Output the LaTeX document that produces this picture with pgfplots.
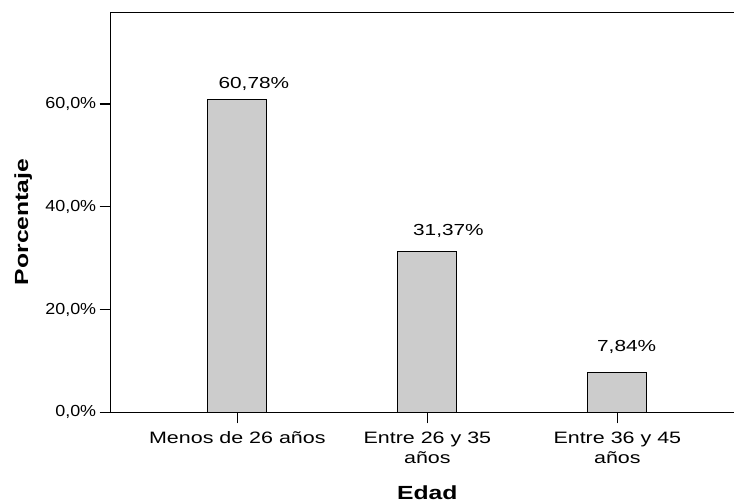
\documentclass[border=0pt]{standalone}
\usepackage{fontspec}
\setmainfont{Liberation Sans}[FakeStretch=1.3]
\newfontfamily\tickfont{Liberation Sans}[FakeStretch=1.12]
\usepackage{pgfplots}
\pgfplotsset{compat=1.18}
\definecolor{bargray}{RGB}{204,204,204}
\begin{document}
\begin{tikzpicture}
\path[use as bounding box] (-110.7pt,-89.7pt) rectangle (623.3pt,412.3pt);
\begin{axis}[
    at={(0,0)}, anchor=south west,
    scale only axis,
    width=633.3pt, height=399.8pt,
    xmin=-0.6667, xmax=2.6667,
    ymin=0, ymax=77.8,
    xtick={0,1,2},
    xticklabels={Menos de 26 años, {Entre 26 y 35\\años}, {Entre 36 y 45\\años}},
    ytick={0,20,40,60},
    yticklabels={{0,0\%}, {20,0\%}, {40,0\%}, {60,0\%}},
    xtick pos=bottom, ytick pos=left,
    tick align=outside,
    major tick length=11pt,
    tick style={black, line width=1.2pt},
    axis line style={line width=1.3pt},
    xticklabel style={font=\fontsize{16.5}{20}\selectfont, align=center, yshift=-5pt},
    yticklabel style={font=\tickfont\fontsize{16}{19}\selectfont},
    xlabel={Edad},
    ylabel={Porcentaje},
    xlabel style={font=\bfseries\fontsize{19}{22}\selectfont, at={(axis description cs:0.5,-0.218)}, anchor=base, inner sep=0pt},
    ylabel style={font=\bfseries\fontsize{19}{22}\selectfont, at={(axis description cs:-0.138,0.476)}, anchor=center, rotate=0},
]
\addplot[ybar, bar width=59pt, fill=bargray, draw=black, line width=1pt]
    coordinates {(0,60.78) (1,31.37) (2,7.84)};
\node[anchor=base, inner sep=0pt, font=\fontsize{16}{19}\selectfont] at (axis cs:0.087,63.06) {60,78\%};
\node[anchor=base, inner sep=0pt, font=\fontsize{16}{19}\selectfont] at (axis cs:1.111,34.5) {31,37\%};
\node[anchor=base, inner sep=0pt, font=\fontsize{16}{19}\selectfont] at (axis cs:2.049,11.8) {7,84\%};
\end{axis}
\end{tikzpicture}
\end{document}
